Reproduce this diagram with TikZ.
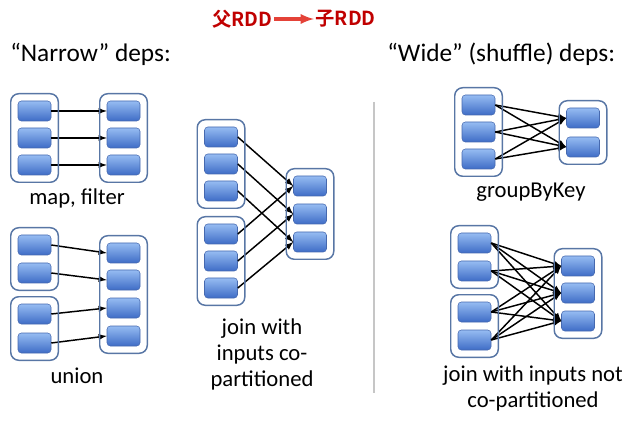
\documentclass[tikz,border=0pt]{standalone}
\usepackage{fontspec}
\setmainfont{Carlito}
\newfontfamily\cjkbf{Noto Sans CJK SC Bold}
\usetikzlibrary{fit}

\definecolor{parttop}{RGB}{150,188,242}
\definecolor{partbottom}{RGB}{62,108,198}
\definecolor{partedge}{RGB}{70,105,175}
\definecolor{rddedge}{RGB}{88,118,165}
\definecolor{titlered}{RGB}{192,0,0}
\definecolor{arrowred}{RGB}{228,66,56}

\tikzset{
	part/.style={draw=partedge,rounded corners=2.5pt,minimum width=24.75pt,minimum height=15pt,inner sep=0pt,top color=parttop,bottom color=partbottom},
	rdd/.style={draw=rddedge,line width=1.1pt,rounded corners=6pt,inner sep=5.25pt},
	dep/.style={->,>=latex,line width=1.1pt},
	heading/.style={anchor=base west,inner sep=0pt,font=\fontsize{19}{22}\selectfont},
	deplabel/.style={align=center,inner sep=0pt,font=\fontsize{17}{19.5}\selectfont}
}

\begin{document}
\begin{tikzpicture}[x=0.75pt,y=-0.75pt]
	\useasboundingbox (0,0) rectangle (643,431);

	% title
	\node[anchor=east,inner sep=1pt,text=titlered,font=\cjkbf\fontsize{14.5}{17}\selectfont](parent) at (274,19) {父RDD};
	\node[anchor=west,inner sep=1pt,text=titlered,font=\cjkbf\fontsize{14.5}{17}\selectfont](child) at (314,19) {子RDD};
	\draw[->,>=latex,arrowred,line width=2.4pt](parent.east) -- (child.west);

	\node[heading](narrow) at (10,62) {``Narrow'' deps:};
	\node[heading](wide) at (387,62) {``Wide'' (shuffle) deps:};
	\draw[gray!45,line width=1.6pt] (374,102) -- (374,393);

	% map, filter
	\foreach \y [count=\i] in {111,138,165}{
		\node[part](map-in\i) at (34.5,\y) {};
		\node[part](map-out\i) at (123.5,\y) {};
		\draw[dep](map-in\i.east) -- (map-out\i.west);
	}
	\node[rdd,fit=(map-in1)(map-in3)]{};
	\node[rdd,fit=(map-out1)(map-out3)]{};
	\node[deplabel](map-label) at (77,198) {map, filter};

	% union
	\foreach \y [count=\i] in {245,273,314,343}
		\node[part](union-in\i) at (34.5,\y) {};
	\foreach \y [count=\i] in {253,280,308,336}{
		\node[part](union-out\i) at (123.5,\y) {};
		\draw[dep](union-in\i.east) -- (union-out\i.west);
	}
	\node[rdd,fit=(union-in1)(union-in2)]{};
	\node[rdd,fit=(union-in3)(union-in4)]{};
	\node[rdd,fit=(union-out1)(union-out4)]{};
	\node[deplabel](union-label) at (77,376) {union};

	% join, co-partitioned
	\foreach \y [count=\i] in {137,164,191}
		\node[part](cojoin-a\i) at (221,\y) {};
	\foreach \y [count=\i] in {234,261,288}
		\node[part](cojoin-b\i) at (221,\y) {};
	\foreach \y [count=\i] in {186,214,242}{
		\node[part](cojoin-out\i) at (310,\y) {};
		\draw[dep](cojoin-a\i.east) -- (cojoin-out\i.west);
		\draw[dep](cojoin-b\i.east) -- (cojoin-out\i.west);
	}
	\node[rdd,fit=(cojoin-a1)(cojoin-a3)]{};
	\node[rdd,fit=(cojoin-b1)(cojoin-b3)]{};
	\node[rdd,fit=(cojoin-out1)(cojoin-out3)]{};
	\node[deplabel](cojoin-label) at (262,354) {join with\\inputs co-\\partitioned};

	% groupByKey
	\foreach \y [count=\i] in {105,132,159}
		\node[part](group-in\i) at (478.5,\y) {};
	\foreach \y [count=\i] in {118,147}
		\node[part](group-out\i) at (583,\y) {};
	\foreach \i in {1,2,3}
		\foreach \j in {1,2}
			\draw[dep](group-in\i.east) -- (group-out\j.west);
	\node[rdd,fit=(group-in1)(group-in3)]{};
	\node[rdd,fit=(group-out1)(group-out2)]{};
	\node[deplabel](group-label) at (531,192) {groupByKey};

	% join, not co-partitioned
	\foreach \y [count=\i] in {243,271,312,340}
		\node[part](join-in\i) at (474.5,\y) {};
	\foreach \y [count=\i] in {266,293,321}
		\node[part](join-out\i) at (578,\y) {};
	\foreach \i in {1,...,4}
		\foreach \j in {1,2,3}
			\draw[dep](join-in\i.east) -- (join-out\j.west);
	\node[rdd,fit=(join-in1)(join-in2)]{};
	\node[rdd,fit=(join-in3)(join-in4)]{};
	\node[rdd,fit=(join-out1)(join-out3)]{};
	\node[deplabel](join-label) at (533,388) {join with inputs not\\co-partitioned};

\end{tikzpicture}
\end{document}
